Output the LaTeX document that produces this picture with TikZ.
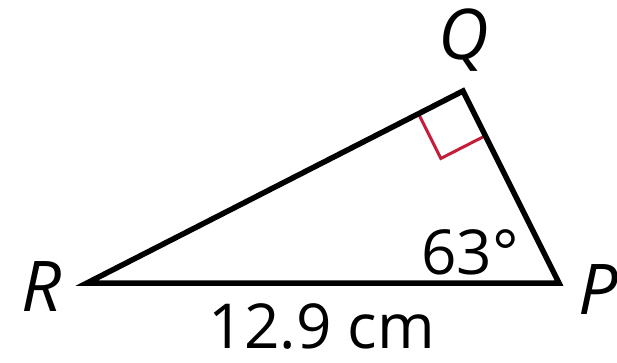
\documentclass[tikz,border=0pt]{standalone}
\usepackage{fontspec}
\setmainfont{Open Sans}
\usetikzlibrary{positioning,calc}
\definecolor{markred}{RGB}{196,28,58}

\begin{document}
\begin{tikzpicture}[x=1pt,y=-1pt,
    side/.style={line width=5.5pt, line join=miter},
    rightmark/.style={line width=3pt, draw=markred},
    vlabel/.style={font=\fontsize{70}{70}\selectfont\itshape, inner sep=0pt},
    numlabel/.style={font=\fontsize{62}{62}\selectfont, inner sep=0pt}]

    \useasboundingbox (0,0) rectangle (617,363);

    % Set coordinates
    \coordinate (r) at (87,283);
    \coordinate (p) at (559,283);
    \coordinate (q) at (463,91);
    \coordinate (m1) at ($(q)!50pt!(r)$);
    \coordinate (m2) at ($(q)!50pt!(p)$);
    \coordinate (m3) at ($(m1)+(m2)-(q)$);

    % Right angle mark
    \draw[rightmark] (m1) -- (m3) -- (m2);

    % Draw lines
    \draw[side] (r) -- (p) -- (q) -- cycle;

    % Add labels
    \node[vlabel] (rlab) at (42,287) {R};
    \node[vlabel] (plab) at (598,290) {P};
    \node[vlabel] (qlab) at (464,40) {Q};
    \node[numlabel] (angp) at (470,252) {63\char"00B0};
    \node[numlabel] (len) at (322,326) {12.9 cm};
\end{tikzpicture}
\end{document}
